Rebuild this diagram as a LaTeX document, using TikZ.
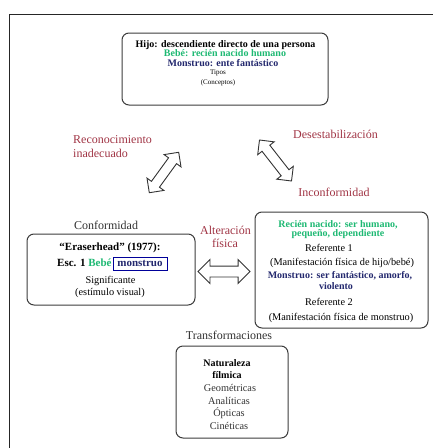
\documentclass[tikz,border=0pt]{standalone}
\usepackage{fontspec}
\setmainfont{Liberation Serif}
\usetikzlibrary{shapes.arrows}

\definecolor{labelred}{RGB}{160,52,68}
\definecolor{termgreen}{RGB}{30,185,115}
\definecolor{termnavy}{RGB}{35,40,110}
\definecolor{framegray}{RGB}{60,60,60}
\definecolor{capgray}{RGB}{50,50,50}

\newcommand{\lblfont}{\fontsize{12}{13}\selectfont}
\newcommand{\bfsmall}{\fontsize{10}{11}\selectfont\bfseries}
\newcommand{\bfmid}{\fontsize{11}{12}\selectfont\bfseries}
\newcommand{\rgsmall}{\fontsize{10.3}{11}\selectfont}
\newcommand{\rgtiny}{\fontsize{7}{8}\selectfont}

\tikzset{
  panel/.style={draw=framegray, line width=1pt, rounded corners=7pt, fill=white, inner sep=0pt},
  ln/.style={inner sep=0pt, anchor=base},
  lnw/.style={inner sep=0pt, anchor=base west},
  caption/.style={ln, font=\lblfont},
  redlabel/.style={lnw, font=\lblfont, text=labelred},
  hollowarrow/.style={double arrow, draw=black!80, fill=white, line width=0.9pt,
    inner xsep=0pt, inner ysep=4.5pt, double arrow head extend=5.5pt, double arrow tip angle=90},
  tagbox/.style={draw=blue!60!black, line width=0.9pt, fill=white, inner sep=0pt,
    minimum width=54pt, minimum height=13pt, font=\bfmid, text=termnavy}
}

\begin{document}
\begin{tikzpicture}[x=1pt,y=-1pt]
\useasboundingbox (0,0) rectangle (433,448);

% page frame
\draw[black!85, line width=1.8pt] (9.5,448) -- (9.5,14.5) -- (433,14.5);

% concepts panel
\node[panel, minimum width=206pt, minimum height=72pt] (types) at (225,69) {};
\node[ln, font=\bfsmall] (t1) at (225.5,47) {Hijo: descendiente directo de una persona};
\node[ln, font=\bfsmall, text=termgreen] (t2) at (225,56) {Bebé: recién nacido humano};
\node[ln, font=\bfsmall, text=termnavy] (t3) at (223,66) {Monstruo: ente fantástico};
\node[ln, font=\rgtiny] (t4) at (218,74.5) {Tipos};
\node[ln, font=\rgtiny] (t5) at (218,84.5) {(Conceptos)};

% side labels
\node[redlabel] (recon) at (73,143) {Reconocimiento};
\node[redlabel] (inad) at (73,157) {inadecuado};
\node[caption, text=labelred] (deses) at (335.5,138) {Desestabilización};
\node[caption, text=labelred] (incon) at (334,196) {Inconformidad};

% diagonal arrows
\node[hollowarrow, minimum height=50pt, rotate=54] (arrL) at (164,172.5) {};
\node[hollowarrow, minimum height=52pt, rotate=-52] (arrR) at (275.5,160.5) {};

% film panel
\node[caption, text=capgray] (conf) at (106,229) {Conformidad};
\node[panel, minimum width=168pt, minimum height=71pt] (film) at (111,269.5) {};
\node[ln, font=\bfmid] (f1) at (110,250.5) {“Eraserhead” (1977):};
\node[lnw, font=\bfmid] (f2) at (57,266.5) {Esc. 1 \textcolor{termgreen}{Bebé}};
\node[tagbox] (tag) at (140,263.5) {monstruo};
\node[ln, font=\rgsmall] (f3) at (110.5,283.5) {Significante};
\node[ln, font=\rgsmall] (f4) at (110,295.5) {(estímulo visual)};

% alteration label and horizontal arrow
\node[caption, text=labelred] (alt1) at (225.5,234) {Alteración};
\node[caption, text=labelred] (alt2) at (225,247) {física};
\node[hollowarrow, minimum height=52pt, inner ysep=5pt, double arrow head extend=6.5pt] (arrH) at (224,271.5) {};

% referents panel
\node[panel, minimum width=173pt, minimum height=116pt] (refs) at (341.5,270) {};
\node[ln, font=\bfsmall, text=termgreen] (r1) at (338,227) {Recién nacido: ser humano,};
\node[ln, font=\bfsmall, text=termgreen] (r2) at (338,236) {pequeño, dependiente};
\node[ln, font=\rgsmall] (r3) at (329,251) {Referente 1};
\node[ln, font=\rgsmall] (r4) at (342,265) {(Manifestación física de hijo/bebé)};
\node[ln, font=\bfsmall, text=termnavy] (r5) at (340,278) {Monstruo: ser fantástico, amorfo,};
\node[ln, font=\bfsmall, text=termnavy] (r6) at (336,289) {violento};
\node[ln, font=\rgsmall] (r7) at (329,305) {Referente 2};
\node[ln, font=\rgsmall] (r8) at (341,320) {(Manifestación física de monstruo)};

% transformations panel
\node[caption, text=capgray] (trans) at (229,339) {Transformaciones};
\node[panel, minimum width=112pt, minimum height=92pt] (nat) at (232,392) {};
\node[ln, font=\bfsmall] (n1) at (227,366.5) {Naturaleza};
\node[ln, font=\bfsmall] (n2) at (227,378.5) {fílmica};
\node[ln, font=\rgsmall, text=capgray] (n3) at (230,391.5) {Geométricas};
\node[ln, font=\rgsmall, text=capgray] (n4) at (229,404.5) {Analíticas};
\node[ln, font=\rgsmall, text=capgray] (n5) at (229,416.5) {Ópticas};
\node[ln, font=\rgsmall, text=capgray] (n6) at (229,429.5) {Cinéticas};
\end{tikzpicture}
\end{document}
